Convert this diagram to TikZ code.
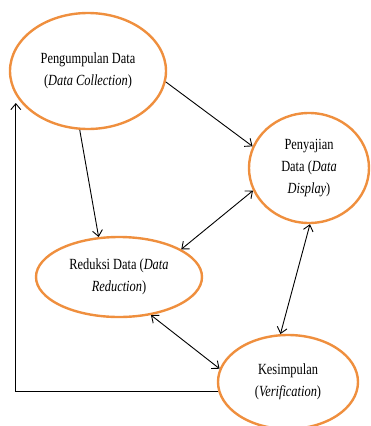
\documentclass[tikz,border=0pt]{standalone}
\usepackage{fontspec}
\setmainfont{Liberation Serif}[FakeStretch=0.8]
\usepackage{tikz}
\usetikzlibrary{arrows.meta,shapes,positioning,calc}
\definecolor{stageorange}{RGB}{239,143,62}
\tikzset{
    stage/.style={draw=stageorange, line width=2.4pt, ellipse, align=center, inner sep=0pt, font=\fontsize{15.5}{22}\selectfont},
    flow/.style={-{Straight Barb[length=6pt, width=10pt]}, line width=0.9pt},
    mutual/.style={{Straight Barb[length=6pt, width=10pt]}-{Straight Barb[length=6pt, width=10pt]}, line width=0.9pt}
}

\begin{document}
\begin{tikzpicture}[x=1pt, y=-1pt]
    \useasboundingbox (0,0) rectangle (371,426);
    \node[stage, minimum width=156pt, minimum height=116pt] (collect) at (88,71) {Pengumpulan Data\\(\textit{Data Collection})};
    \node[stage, minimum width=120pt, minimum height=110pt] (display) at (309,168) {Penyajian\\Data (\textit{Data}\\\textit{Display})};
    \node[stage, minimum width=166pt, minimum height=80pt] (reduce) at (119,277) {Reduksi Data (\textit{Data}\\\textit{Reduction})};
    \node[stage, minimum width=140pt, minimum height=94pt] (verify) at (288,382) {Kesimpulan\\(\textit{Verification})};

    \draw[flow] (collect.-8) -- (display.159);
    \draw[flow] (collect.262) -- (reduce.117);
    \draw[mutual] (display.202) -- (reduce.24);
    \draw[mutual] (display.271) -- (verify.99);
    \draw[mutual] (reduce.-50) -- (verify.169);
    \draw[flow] (verify.188) -| ([xshift=7pt, yshift=-32pt]collect.west);
\end{tikzpicture}
\end{document}
